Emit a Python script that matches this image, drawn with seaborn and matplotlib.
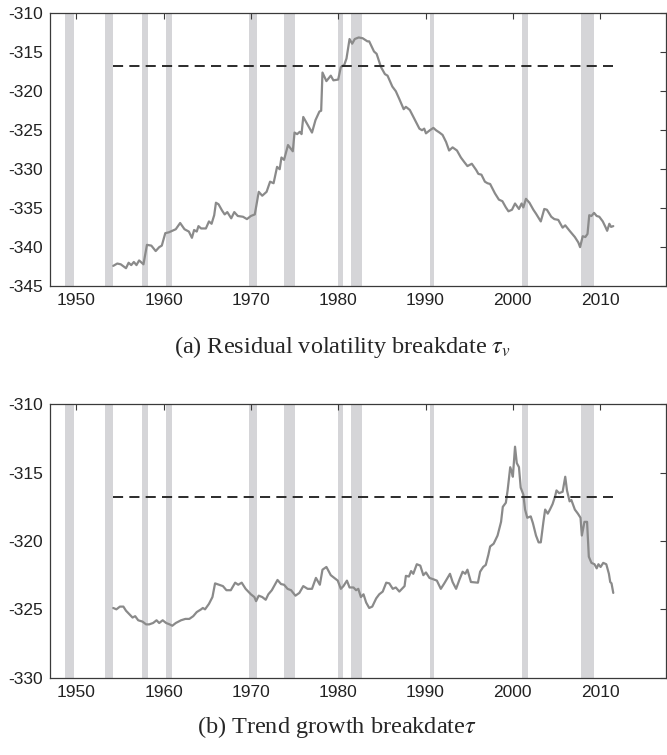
import matplotlib
matplotlib.use("Agg")
import matplotlib.pyplot as plt
import seaborn as sns

# Recession bands (NBER, quarterly)
rec_start = [1948.75, 1953.25, 1957.5, 1960.25, 1969.75, 1973.75, 1980.0, 1981.5, 1990.5, 2001.0, 2007.75]
rec_end = [1949.75, 1954.25, 1958.25, 1961.0, 1970.75, 1975.0, 1980.5, 1982.75, 1991.0, 2001.75, 2009.25]

# Critical value line
crit_start = 1954.25
crit_end = 2011.5
crit_value = -316.8

# Panel (a): residual volatility breakdate
vol_years = [
    1954.24, 1954.7, 1955.1, 1955.7, 1956.0, 1956.3, 1956.6, 1956.9, 1957.2, 1957.7,
    1958.1, 1958.6, 1959.1, 1959.5, 1959.8, 1960.2, 1960.6, 1961.0, 1961.4, 1961.9,
    1962.4, 1962.9, 1963.25, 1963.5, 1963.8, 1964.0, 1964.3, 1964.85, 1965.2, 1965.5,
    1965.8, 1966.0, 1966.3, 1966.7, 1967.0, 1967.3, 1967.75, 1968.1, 1968.5, 1969.1,
    1969.55, 1970.0, 1970.45, 1970.9, 1971.3, 1971.8, 1972.2, 1972.6, 1973.0, 1973.3,
    1973.5, 1973.8, 1974.25, 1974.8, 1975.0, 1975.3, 1975.6, 1975.8, 1976.0, 1976.5,
    1977.0, 1977.4, 1977.85, 1978.05, 1978.2, 1978.65, 1979.15, 1979.45, 1980.0, 1980.3,
    1980.7, 1980.95, 1981.3, 1981.6, 1981.9, 1982.35, 1982.8, 1983.35, 1983.55, 1984.1,
    1984.4, 1984.9, 1985.35, 1985.65, 1986.2, 1986.6, 1987.0, 1987.5, 1987.75, 1988.2,
    1988.7, 1989.3, 1989.6, 1989.85, 1990.05, 1990.5, 1990.9, 1991.2, 1991.6, 1991.95,
    1992.35, 1992.7, 1993.1, 1993.6, 1994.05, 1994.45, 1994.8, 1995.3, 1995.8, 1996.05,
    1996.4, 1996.8, 1997.1, 1997.4, 1997.95, 1998.4, 1998.8, 1999.2, 1999.5, 1999.9,
    2000.25, 2000.7, 2001.0, 2001.2, 2001.5, 2001.9, 2002.35, 2002.65, 2003.2, 2003.6,
    2003.9, 2004.4, 2004.75, 2005.2, 2005.7, 2006.0, 2006.5, 2007.1, 2007.5, 2007.7,
    2008.0, 2008.3, 2008.55, 2008.75, 2009.0, 2009.3, 2009.6, 2009.9, 2010.3, 2010.6,
    2010.8, 2011.05, 2011.25, 2011.5,
]
vol_values = [
    -342.4, -342.1, -342.2, -342.7, -342.0, -342.3, -341.9, -342.3, -341.7, -342.2,
    -339.7, -339.8, -340.5, -340.0, -339.8, -338.2, -338.1, -337.9, -337.7, -336.9,
    -337.7, -338.0, -338.8, -337.8, -338.0, -337.3, -337.6, -337.6, -336.7, -337.0,
    -335.9, -334.3, -334.5, -335.3, -335.8, -335.5, -336.3, -335.5, -336.0, -336.1,
    -336.4, -336.0, -335.8, -332.9, -333.4, -332.9, -331.6, -331.8, -329.7, -330.0,
    -328.5, -328.8, -326.9, -327.7, -325.3, -325.5, -325.2, -325.5, -323.3, -324.3,
    -325.3, -323.7, -322.6, -322.5, -317.6, -318.7, -318.0, -318.6, -318.5, -316.9,
    -316.6, -315.8, -313.3, -313.9, -313.3, -313.1, -313.2, -313.6, -313.6, -314.9,
    -315.2, -316.9, -317.8, -318.0, -319.4, -320.0, -321.0, -322.3, -322.0, -322.4,
    -323.5, -324.8, -325.0, -324.8, -325.4, -325.0, -324.7, -325.0, -325.3, -325.6,
    -326.5, -327.6, -327.2, -327.6, -328.5, -329.1, -329.6, -329.3, -330.1, -330.6,
    -330.7, -331.6, -331.8, -331.9, -333.1, -333.9, -334.1, -334.9, -335.4, -335.2,
    -334.4, -335.1, -334.4, -334.9, -333.8, -334.3, -335.2, -335.7, -336.7, -335.1,
    -335.2, -336.1, -336.4, -336.5, -337.5, -337.2, -337.9, -338.7, -339.4, -340.0,
    -338.6, -338.7, -338.3, -335.9, -336.0, -335.6, -336.0, -336.1, -336.7, -337.4,
    -337.9, -337.0, -337.4, -337.3,
]

# Panel (b): trend growth breakdate
trend_years = [
    1954.24, 1954.6, 1955.0, 1955.4, 1955.7, 1956.15, 1956.45, 1956.75, 1957.1, 1957.6,
    1958.0, 1958.35, 1958.8, 1959.2, 1959.5, 1959.9, 1960.3, 1960.7, 1961.0, 1961.4,
    1962.0, 1962.5, 1962.95, 1963.4, 1963.8, 1964.3, 1964.5, 1964.75, 1965.2, 1965.6,
    1965.9, 1966.35, 1966.8, 1967.2, 1967.7, 1968.2, 1968.55, 1968.95, 1969.4, 1970.0,
    1970.4, 1970.6, 1970.9, 1971.3, 1971.7, 1972.0, 1972.4, 1972.75, 1973.05, 1973.45,
    1973.8, 1974.2, 1974.6, 1975.1, 1975.55, 1976.0, 1976.5, 1977.0, 1977.45, 1977.9,
    1978.2, 1978.65, 1979.15, 1979.55, 1979.95, 1980.3, 1980.6, 1981.0, 1981.3, 1981.75,
    1982.05, 1982.3, 1982.6, 1982.9, 1983.2, 1983.55, 1983.9, 1984.35, 1984.7, 1985.1,
    1985.5, 1985.85, 1986.25, 1986.6, 1987.0, 1987.6, 1987.75, 1988.1, 1988.35, 1988.6,
    1989.0, 1989.4, 1989.75, 1990.05, 1990.45, 1990.9, 1991.3, 1991.75, 1992.15, 1992.8,
    1993.1, 1993.5, 1993.9, 1994.25, 1994.55, 1994.8, 1995.2, 1996.0, 1996.25, 1996.6,
    1996.9, 1997.2, 1997.4, 1997.8, 1998.25, 1998.65, 1998.85, 1999.2, 1999.4, 1999.7,
    1999.9, 2000.0, 2000.25, 2000.45, 2000.7, 2000.9, 2001.2, 2001.4, 2001.65, 2002.05,
    2002.3, 2002.65, 2002.95, 2003.2, 2003.5, 2003.7, 2004.0, 2004.25, 2004.55, 2004.85,
    2005.0, 2005.3, 2005.7, 2006.0, 2006.2, 2006.5, 2006.7, 2007.1, 2007.45, 2007.75,
    2007.9, 2008.2, 2008.5, 2008.7, 2009.0, 2009.35, 2009.6, 2009.8, 2010.05, 2010.35,
    2010.7, 2011.0, 2011.15, 2011.3, 2011.5,
]
trend_values = [
    -324.9, -325.0, -324.8, -324.8, -325.1, -325.4, -325.6, -325.5, -325.8, -325.9,
    -326.1, -326.1, -326.0, -325.8, -326.0, -325.8, -326.0, -326.1, -326.2, -326.0,
    -325.8, -325.7, -325.7, -325.5, -325.2, -325.0, -324.9, -325.0, -324.6, -324.1,
    -323.1, -323.2, -323.3, -323.6, -323.6, -323.05, -323.2, -323.05, -323.5, -323.9,
    -324.1, -324.4, -324.0, -324.1, -324.3, -323.9, -323.6, -323.2, -322.85, -323.15,
    -323.2, -323.5, -323.6, -324.0, -323.8, -323.3, -323.5, -323.5, -322.7, -323.2,
    -322.1, -321.9, -322.5, -322.7, -322.9, -323.5, -323.3, -322.9, -323.4, -323.4,
    -323.6, -323.5, -324.1, -323.9, -324.5, -324.9, -324.8, -324.2, -323.9, -323.7,
    -323.05, -323.1, -323.5, -323.4, -323.7, -323.3, -322.55, -322.6, -322.2, -322.4,
    -321.7, -321.8, -322.5, -322.3, -322.7, -322.8, -322.9, -323.5, -323.1, -322.4,
    -323.0, -323.5, -322.8, -322.25, -322.4, -322.1, -323.0, -323.05, -322.25, -321.9,
    -321.75, -321.0, -320.4, -320.2, -319.6, -318.6, -317.5, -317.2, -316.3, -314.6,
    -315.0, -315.3, -313.1, -314.3, -314.6, -316.1, -316.6, -317.7, -318.3, -318.2,
    -318.7, -319.6, -320.1, -320.1, -318.6, -317.7, -318.0, -317.7, -317.3, -316.7,
    -316.3, -316.5, -316.4, -315.3, -316.3, -317.1, -317.0, -317.7, -318.0, -318.3,
    -319.6, -318.6, -318.6, -321.15, -321.6, -321.7, -322.0, -321.7, -321.9, -321.6,
    -321.7, -322.4, -323.0, -323.1, -323.8,
]

x_ticks = [1950, 1960, 1970, 1980, 1990, 2000, 2010]
vol_yticks = [-345, -340, -335, -330, -325, -320, -315, -310]
trend_yticks = [-330, -325, -320, -315, -310]

sns.set_style("white")
plt.rcParams['font.family'] = ['Liberation Sans', 'DejaVu Sans']
plt.rcParams['mathtext.fontset'] = 'stix'

line_color = "#8a8a8a"
band_color = "#d5d5d8"
frame_color = "#3a3a3a"

fig = plt.figure(figsize=(6.67, 7.55), dpi=100)
ax1 = fig.add_axes([0.075, 0.621, 0.923, 0.3614])
ax2 = fig.add_axes([0.075, 0.1024, 0.923, 0.3621])


def draw_panel(ax, years, values, ylim, yticks):
    for s, e in zip(rec_start, rec_end):
        ax.axvspan(s, e, color=band_color, lw=0, zorder=0)
    sns.lineplot(x=years, y=values, ax=ax, color=line_color, lw=1.6,
                 estimator=None, sort=False, zorder=3)
    ax.hlines(crit_value, crit_start, crit_end, colors="#2b2b2b", lw=1.4,
              linestyles=(0, (5.2, 3.2)), zorder=4)
    ax.set_xlim(1947, 2017.5)
    ax.set_ylim(*ylim)
    ax.set_xticks(x_ticks)
    ax.set_yticks(yticks)
    ax.set_yticklabels([str(t) for t in yticks])
    ax.tick_params(direction="in", top=True, right=True, length=4, width=0.8,
                   color=frame_color, labelsize=12.5, labelcolor="#222222", pad=5)
    for sp in ax.spines.values():
        sp.set_visible(True)
        sp.set_color(frame_color)
        sp.set_linewidth(0.9)
    ax.set_xlabel("")
    ax.set_ylabel("")
    ax.grid(False)


draw_panel(ax1, vol_years, vol_values, (-345, -310), vol_yticks)
draw_panel(ax2, trend_years, trend_values, (-330, -310), trend_yticks)

fig.text(0.514, 1 - 347 / 755, r"(a) Residual volatility breakdate $\tau_v$",
         ha="center", va="center", fontsize=17.5, family="Liberation Serif")
fig.text(0.505, 1 - 727 / 755, r"(b) Trend growth breakdate$\tau$",
         ha="center", va="center", fontsize=17.5, family="Liberation Serif")

fig.savefig("out.png", dpi=100)
